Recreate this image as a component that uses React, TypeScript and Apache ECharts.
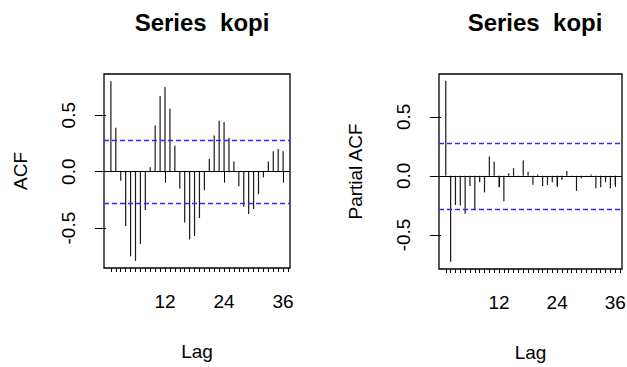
import React, { useEffect, useRef } from "react";
import * as echarts from "echarts";

const lags = [
  1, 2, 3, 4, 5, 6, 7, 8, 9, 10, 11, 12, 13, 14, 15, 16, 17, 18,
  19, 20, 21, 22, 23, 24, 25, 26, 27, 28, 29, 30, 31, 32, 33, 34, 35, 36,
];
const acfValues = [
  0.8, 0.39, -0.08, -0.48, -0.75, -0.79, -0.64, -0.34, 0.04, 0.41, 0.67, 0.75,
  0.56, 0.23, -0.15, -0.45, -0.6, -0.57, -0.41, -0.165, 0.115, 0.32, 0.45, 0.44,
  0.3, 0.09, -0.13, -0.31, -0.375, -0.33, -0.2, -0.05, 0.09, 0.18, 0.2, 0.18,
];
const pacfValues = [
  0.805, -0.726, -0.246, -0.25, -0.32, -0.085, -0.28, -0.054, -0.14, 0.164, 0.12, -0.096,
  -0.215, 0.023, 0.065, 0.004, 0.13, 0.034, -0.076, 0.011, -0.085, -0.076, -0.054, -0.085,
  -0.034, 0.042, -0.004, -0.127, -0.02, 0.003, 0.011, -0.105, -0.096, -0.054, -0.105, -0.076,
];
const confLimit = 0.283;
const majorTicks = [12, 24, 36];
const minorTicks = [
  1, 2, 3, 4, 5, 6, 7, 8, 9, 10, 11, 12, 13, 14, 15, 16, 17, 18, 19,
  20, 21, 22, 23, 24, 25, 26, 27, 28, 29, 30, 31, 32, 33, 34, 35, 36, 37,
];
const yTicks = [-0.5, 0, 0.5];
const titleText = "Series\u00a0 kopi";
const yNames = ["ACF", "Partial ACF"];
const xName = "Lag";

const FONT = "Liberation Sans, Arial, sans-serif";

export default function App() {
  const ref = useRef<HTMLDivElement>(null);
  useEffect(() => {
    if (!ref.current) return;
    const chart = echarts.init(ref.current, null, { renderer: "svg" });

    const grids = [
      { left: 104, top: 74, width: 186, height: 194 },
      { left: 439, top: 74, width: 183, height: 195 },
    ];
    const yRanges = [
      [-0.853, 0.865],
      [-0.788, 0.862],
    ];
    const datasets = [acfValues, pacfValues];

    const xAxes: any[] = [];
    const yAxes: any[] = [];
    const series: any[] = [];
    grids.forEach((g, i) => {
      xAxes.push({
        type: "value",
        gridIndex: i,
        min: -0.4,
        max: 37.4,
        position: "bottom",
        name: xName,
        nameLocation: "middle",
        nameGap: 74,
        nameTextStyle: { fontSize: 19, color: "#000", fontFamily: FONT },
        axisLine: { show: false },
        splitLine: { show: false },
        axisTick: {
          show: true,
          length: 11,
          customValues: majorTicks,
          lineStyle: { color: "#000", width: 1 },
        },
        axisLabel: {
          show: true,
          customValues: majorTicks,
          margin: 24,
          fontSize: 19,
          color: "#000",
          fontFamily: FONT,
        },
      });
      xAxes.push({
        type: "value",
        gridIndex: i,
        min: -0.4,
        max: 37.4,
        position: "bottom",
        axisLine: { show: false },
        splitLine: { show: false },
        axisTick: {
          show: true,
          length: 4,
          customValues: minorTicks,
          lineStyle: { color: "#000", width: 1 },
        },
        axisLabel: { show: false },
      });
      yAxes.push({
        type: "value",
        gridIndex: i,
        min: yRanges[i][0],
        max: yRanges[i][1],
        name: yNames[i],
        nameLocation: "middle",
        nameRotate: 90,
        nameGap: 74,
        nameTextStyle: { fontSize: 19, color: "#000", fontFamily: FONT },
        axisLine: { show: false },
        splitLine: { show: false },
        axisTick: {
          show: true,
          length: 11,
          customValues: yTicks,
          lineStyle: { color: "#000", width: 1 },
        },
        axisLabel: {
          show: true,
          customValues: yTicks,
          rotate: 90,
          margin: 26,
          fontSize: 19,
          color: "#000",
          fontFamily: FONT,
          formatter: (v: number) => v.toFixed(1),
        },
      });
      series.push({
        type: "custom",
        xAxisIndex: i * 2,
        yAxisIndex: i,
        data: lags.map((l, k) => [l, datasets[i][k]]),
        renderItem: (_p: any, api: any) => {
          const p0 = api.coord([api.value(0), 0]);
          const p1 = api.coord([api.value(0), api.value(1)]);
          return {
            type: "line",
            shape: { x1: p0[0], y1: p0[1], x2: p1[0], y2: p1[1] },
            style: { stroke: "#1a1a1a", lineWidth: 1.2 },
          };
        },
        markLine: {
          silent: true,
          symbol: ["none", "none"],
          label: { show: false },
          data: [
            { yAxis: 0, lineStyle: { color: "#000", width: 1.2, type: "solid" } },
            { yAxis: confLimit, lineStyle: { color: "#2a2aff", width: 1.3, type: [5, 3] } },
            { yAxis: -confLimit, lineStyle: { color: "#2a2aff", width: 1.3, type: [5, 3] } },
          ],
        },
      });
    });

    chart.setOption({
      animation: false,
      backgroundColor: "#fff",
      title: [
        {
          text: titleText,
          left: 197,
          top: 5,
          textAlign: "center",
          textStyle: { fontSize: 24, fontWeight: "bold", color: "#000", fontFamily: FONT },
        },
        {
          text: titleText,
          left: 530,
          top: 5,
          textAlign: "center",
          textStyle: { fontSize: 24, fontWeight: "bold", color: "#000", fontFamily: FONT },
        },
      ],
      grid: grids.map((g) => ({
        ...g,
        show: true,
        borderColor: "#000",
        borderWidth: 1.3,
        backgroundColor: "transparent",
        outerBoundsMode: "none",
      })),
      xAxis: xAxes,
      yAxis: yAxes,
      series,
    });
    return () => chart.dispose();
  }, []);
  return (
    <div
      ref={ref}
      style={{ position: "fixed", left: 0, top: 0, width: 627, height: 367 }}
    />
  );
}
